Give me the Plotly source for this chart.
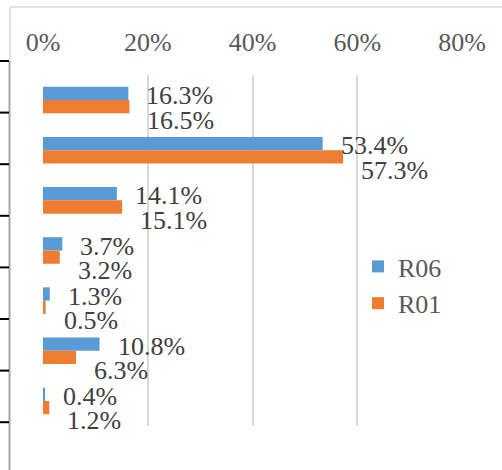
import plotly.graph_objects as go

categories = ["項目1", "項目2", "項目3", "項目4", "項目5", "項目6", "項目7"]
r06_values = [0.163, 0.534, 0.141, 0.037, 0.013, 0.108, 0.004]
r01_values = [0.165, 0.573, 0.151, 0.032, 0.005, 0.063, 0.012]
series_names = ["R06", "R01"]
x_ticks = [0, 0.2, 0.4, 0.6, 0.8]
x_tick_labels = ["0%", "20%", "40%", "60%", "80%"]

W, H = 502, 470
ML, MR, MT, MB = 43, 40, 75, 44
PW, PH = W - ML - MR, H - MT - MB
FONT = "'Liberation Serif', 'Times New Roman', 'DejaVu Serif', serif"
FS = 26
BLUE, ORANGE = "#5b9bd5", "#ed7d31"


def px_x(p):
    return (p - ML) / PW


def px_y(p):
    return (H - MB - p) / PH


fig = go.Figure()
fig.add_trace(go.Bar(y=categories, x=r06_values, name=series_names[0],
                     orientation="h", marker=dict(color=BLUE, line_width=0)))
fig.add_trace(go.Bar(y=categories, x=r01_values, name=series_names[1],
                     orientation="h", marker=dict(color=ORANGE, line_width=0)))

annotations = []
for vals, yshift in ((r06_values, 4.5), (r01_values, -20)):
    for c, v in zip(categories, vals):
        annotations.append(dict(
            x=v, y=c, xref="x", yref="y", text=f"{v*100:.1f}%",
            showarrow=False, xanchor="left", yanchor="middle",
            xshift=16, yshift=yshift,
            font=dict(family=FONT, size=FS, color="#404040")))

shapes = []
# outer chart border (top and left)
shapes.append(dict(type="line", xref="paper", yref="paper",
                   x0=px_x(10), x1=px_x(W + 5), y0=px_y(7), y1=px_y(7),
                   line=dict(color="#d9d9d9", width=1.5)))
shapes.append(dict(type="line", xref="paper", yref="paper",
                   x0=px_x(10), x1=px_x(10), y0=px_y(7), y1=px_y(61),
                   line=dict(color="#d9d9d9", width=1.5)))
# outer axis line
shapes.append(dict(type="line", xref="paper", yref="paper",
                   x0=px_x(9.5), x1=px_x(9.5), y0=px_y(61), y1=px_y(H + 5),
                   line=dict(color="#a6a6a6", width=2)))
for i in range(8):
    yy = 61 + i * 51.6
    shapes.append(dict(type="line", xref="paper", yref="paper",
                       x0=px_x(-2), x1=px_x(9), y0=px_y(yy), y1=px_y(yy),
                       line=dict(color="#000000", width=2)))

fig.update_layout(
    width=W, height=H,
    margin=dict(l=ML, r=MR, t=MT, b=MB, pad=0, autoexpand=False),
    paper_bgcolor="white", plot_bgcolor="white",
    barmode="group", bargap=0.47, bargroupgap=0,
    font=dict(family=FONT, size=FS, color="#595959"),
    xaxis=dict(side="top", range=[0, 0.8], tickvals=x_ticks,
               ticktext=x_tick_labels, showgrid=True, gridcolor="#d9d9d9",
               gridwidth=2, zeroline=False, showline=False, ticks="",
               tickfont=dict(family=FONT, size=FS, color="#595959"),
               ticklabelstandoff=18, automargin=False),
    yaxis=dict(range=[len(categories) - 0.5, -0.5], autorange=False,
               showticklabels=False, showgrid=False,
               zeroline=False, showline=False, ticks="", automargin=False),
    legend=dict(x=px_x(358), y=px_y(243), xref="paper", yref="paper",
                xanchor="left", yanchor="top", bgcolor="rgba(0,0,0,0)",
                font=dict(family=FONT, size=FS, color="#595959"),
                traceorder="normal", itemclick=False),
    showlegend=True,
    annotations=annotations,
    shapes=shapes,
)

fig.write_html("out.html", config={"displayModeBar": False},
               post_script="document.body.style.margin='0px';"
                           "document.body.style.overflow='hidden';")
